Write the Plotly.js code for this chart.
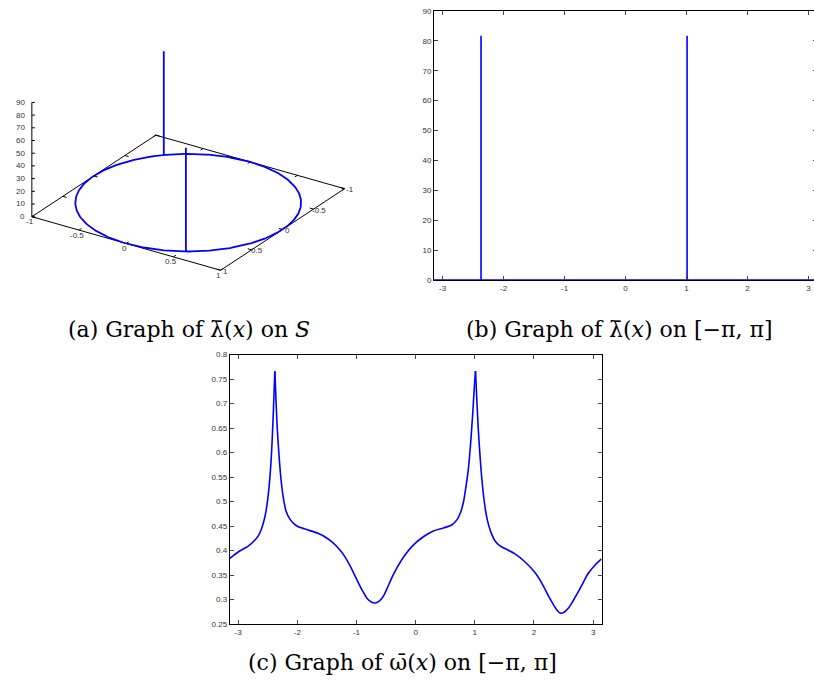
<!DOCTYPE html>
<html>
<head>
<meta charset="utf-8">
<script src="https://cdn.plot.ly/plotly-3.0.1.min.js"></script>
<style>
  html, body { margin: 0; padding: 0; background: #fff; overflow: hidden; width: 814px; height: 689px; }
  #fig { width: 818px; height: 689px; }
</style>
</head>
<body>
<div id="fig"></div>
<script>
const PI = Math.PI;

// lambda-bar: zero on the circle except two narrow spikes
const lambdaBase = 0;
const lambdaSpikeAt = [-2.37, 1.01];
const lambdaSpikeHeight = [81.7, 81.7];

// omega-bar sampled on [-pi, pi]
const omegaX = [-3.1416, -3.00, -2.90, -2.83, -2.72, -2.66, -2.61, -2.57, -2.53, -2.50, -2.47, -2.44, -2.42, -2.40, -2.38,
  -2.36, -2.34, -2.31, -2.28, -2.24, -2.19, -2.12, -2.05, -1.99, -1.82, -1.65, -1.51, -1.40, -1.28, -1.20, -1.11,
  -1.00, -0.90, -0.82, -0.75, -0.68, -0.61, -0.54, -0.47, -0.40, -0.32, -0.18, -0.04, 0.13, 0.30, 0.47, 0.61,
  0.70, 0.76, 0.81, 0.85, 0.89, 0.93, 0.965, 0.99, 1.012, 1.035, 1.06, 1.09, 1.12, 1.16, 1.21, 1.27, 1.34, 1.42,
  1.51, 1.68, 1.845, 2.01, 2.13, 2.25, 2.39, 2.45, 2.51, 2.58, 2.66, 2.75, 2.83, 2.915, 3.03, 3.1416];
const omegaY = [0.384, 0.397, 0.404, 0.409, 0.421, 0.430, 0.443, 0.458, 0.480, 0.505, 0.540, 0.590, 0.640, 0.700, 0.766,
  0.705, 0.650, 0.595, 0.550, 0.510, 0.480, 0.463, 0.454, 0.449, 0.442, 0.435, 0.426, 0.416, 0.401, 0.388, 0.369,
  0.342, 0.318, 0.302, 0.295, 0.293, 0.297, 0.308, 0.326, 0.345, 0.364, 0.391, 0.411, 0.428, 0.440, 0.446, 0.452,
  0.463, 0.478, 0.500, 0.530, 0.565, 0.620, 0.680, 0.730, 0.766, 0.705, 0.645, 0.590, 0.545, 0.500, 0.463, 0.438, 0.420, 0.410,
  0.404, 0.393, 0.377, 0.356, 0.334, 0.306, 0.278, 0.272, 0.274, 0.282, 0.297, 0.316, 0.334, 0.353, 0.370, 0.383];

// tick labels
const angleTickVals = [-3, -2, -1, 0, 1, 2, 3];
const angleTickText = ['-3', '-2', '-1', '0', '1', '2', '3'];
const unitTickVals = [-1, -0.5, 0, 0.5, 1];
const unitTickText = ['-1', '-0.5', '0', '0.5', '1'];
const heightTickVals = [0, 10, 20, 30, 40, 50, 60, 70, 80, 90];

const captions = [
  '(a) Graph of λ\u0304(<i>x</i>) on <i>S</i>',
  '(b) Graph of λ\u0304(<i>x</i>) on [\u2212π, π]',
  '(c) Graph of ω\u0304(<i>x</i>) on [\u2212π, π]'
];

const W = 818, H = 689;
const fx = v => v / W;
const fy = v => 1 - v / H;
const blue = '#0000ff';
const tickFont = { family: 'Liberation Sans, Arial, sans-serif', size: 8, color: '#333' };

// ---------- (b) lambda-bar on [-pi, pi]: baseline with vertical spikes
const lamX = [-PI], lamY = [lambdaBase];
lambdaSpikeAt.forEach((a, i) => {
  lamX.push(a, a, a);
  lamY.push(lambdaBase, lambdaSpikeHeight[i], lambdaBase);
});
lamX.push(PI); lamY.push(lambdaBase);

// ---------- (a) surface plot view: orthographic projection of (x, y, z)
const view = { azimuth: 33.3, elevation: 25.6, zScale: 0.01247 };
const ca = Math.cos(view.azimuth * PI / 180), sa = Math.sin(view.azimuth * PI / 180);
const ce = Math.cos(view.elevation * PI / 180), se = Math.sin(view.elevation * PI / 180);
function proj(x, y, z) {
  const depth = x * sa + y * ca;
  return [x * ca - y * sa, -depth * se + z * view.zScale * ce];
}
function pushPt(arrU, arrV, x, y, z) {
  const p = proj(x, y, z); arrU.push(p[0]); arrV.push(p[1]);
}

// lambda-bar drawn over the unit circle S (angle grid of the domain + spikes)
const thetas = [];
const nGrid = 360;
for (let k = 0; k <= nGrid; k++) thetas.push(-PI + 2 * PI * k / nGrid);
const events = thetas.map(t => ({ t, spike: -1 }))
  .concat(lambdaSpikeAt.map((a, i) => ({ t: a, spike: i })))
  .sort((p, q) => p.t - q.t);
const su = [], sv = [];
events.forEach(e => {
  const c = Math.cos(e.t), s = Math.sin(e.t);
  if (e.spike < 0) pushPt(su, sv, c, s, lambdaBase);
  else {
    pushPt(su, sv, c, s, lambdaBase);
    pushPt(su, sv, c, s, lambdaSpikeHeight[e.spike]);
    pushPt(su, sv, c, s, lambdaBase);
  }
});

// box frame: base square, z axis and tick marks
const xr = [unitTickVals[0], unitTickVals[unitTickVals.length - 1]];
const zr = [heightTickVals[0], heightTickVals[heightTickVals.length - 1]];
const fu = [], fv = [];
function seg(a, b) { pushPt(fu, fv, a[0], a[1], a[2]); pushPt(fu, fv, b[0], b[1], b[2]); fu.push(null); fv.push(null); }
[[xr[0], xr[1]], [xr[1], xr[1]], [xr[1], xr[0]], [xr[0], xr[0]], [xr[0], xr[1]]].forEach((c, i, arr) => {
  if (i > 0) seg([arr[i - 1][0], arr[i - 1][1], zr[0]], [c[0], c[1], zr[0]]);
});
seg([xr[0], xr[1], zr[0]], [xr[0], xr[1], zr[1]]);
const tl = 0.04;
unitTickVals.forEach(t => {
  seg([t, xr[1], 0], [t, xr[1] - tl, 0]);
  seg([t, xr[0], 0], [t, xr[0] + tl, 0]);
  seg([xr[1], t, 0], [xr[1] - tl, t, 0]);
  seg([xr[0], t, 0], [xr[0] + tl, t, 0]);
});
const tlz = 0.027;
heightTickVals.forEach(z => seg([xr[0], xr[1], z], [xr[0] + tlz * ca, xr[1] - tlz * sa, z]));

// pixel placement of the 3D panel
const pScale = 112.9, pCx = 188.2, pCy = 202.7;
const aL = 0, aR = 400, aT = 20, aB = 300;
const a3x = { domain: [fx(aL), fx(aR)], range: [(aL - pCx) / pScale, (aR - pCx) / pScale], anchor: 'y3', visible: false, fixedrange: true };
const a3y = { domain: [fy(aB), fy(aT)], range: [(pCy - aB) / pScale, (pCy - aT) / pScale], anchor: 'x3', visible: false, fixedrange: true };

// tick labels of the 3D panel
const boxLabels = [];
unitTickVals.forEach((t, i) => {
  const p = proj(t, xr[1], 0);
  boxLabels.push({ text: unitTickText[i], x: p[0], y: p[1], xshift: -2, yshift: -5, xanchor: 'center', yanchor: 'middle' });
  const q = proj(xr[1], t, 0);
  boxLabels.push({ text: unitTickText[i], x: q[0], y: q[1], xshift: 5, yshift: -1, xanchor: 'center', yanchor: 'middle' });
});
heightTickVals.forEach(z => {
  const p = proj(xr[0], xr[1], z);
  boxLabels.push({ text: String(z), x: p[0], y: p[1], xshift: -5, yshift: 0, xanchor: 'right', yanchor: 'middle' });
});
boxLabels.forEach(a => Object.assign(a, { xref: 'x3', yref: 'y3', showarrow: false, font: tickFont }));

// ---------- (c) omega-bar: smooth pieces joined at the two cusps
const cuts = [0];
for (let i = 1; i < omegaY.length - 1; i++) {
  if (omegaY[i] > omegaY[i - 1] && omegaY[i] > omegaY[i + 1] && omegaY[i] > 0.6) cuts.push(i);
}
cuts.push(omegaY.length - 1);
const omegaTraces = [];
for (let i = 0; i < cuts.length - 1; i++) {
  omegaTraces.push({
    type: 'scatter', mode: 'lines', xaxis: 'x2', yaxis: 'y2',
    x: omegaX.slice(cuts[i], cuts[i + 1] + 1), y: omegaY.slice(cuts[i], cuts[i + 1] + 1),
    line: { color: blue, width: 1.6, shape: 'spline', smoothing: 0.8 }, hoverinfo: 'skip', showlegend: false
  });
}

const traces = [
  { type: 'scatter', mode: 'lines', x: fu, y: fv, xaxis: 'x3', yaxis: 'y3',
    line: { color: '#000', width: 1 }, connectgaps: false, hoverinfo: 'skip', showlegend: false },
  { type: 'scatter', mode: 'lines', x: su, y: sv, xaxis: 'x3', yaxis: 'y3',
    line: { color: blue, width: 1.8 }, hoverinfo: 'skip', showlegend: false },
  { type: 'scatter', mode: 'lines', x: lamX, y: lamY, xaxis: 'x', yaxis: 'y',
    line: { color: blue, width: 1.6 }, hoverinfo: 'skip', showlegend: false }
].concat(omegaTraces);

const axis2d = {
  showline: true, linecolor: '#000', linewidth: 1, mirror: 'allticks',
  ticks: 'inside', ticklen: 4, tickcolor: '#444', tickwidth: 1,
  showgrid: false, zeroline: false, tickfont: tickFont, fixedrange: true
};

const layout = {
  width: W, height: H,
  margin: { l: 0, r: 0, t: 0, b: 0 },
  paper_bgcolor: '#fff', plot_bgcolor: 'rgba(0,0,0,0)', showlegend: false,
  font: { family: 'Liberation Sans, Arial, sans-serif', size: 8, color: '#333' },
  xaxis: Object.assign({}, axis2d, {
    domain: [fx(434), fx(817)], anchor: 'y', range: [-PI, PI],
    tickvals: angleTickVals, ticktext: angleTickText
  }),
  yaxis: Object.assign({}, axis2d, {
    domain: [fy(280), fy(11)], anchor: 'x', range: [0, 90], dtick: 10, tick0: 0
  }),
  xaxis2: Object.assign({}, axis2d, {
    domain: [fx(229.8), fx(601.5)], anchor: 'y2', range: [-PI, PI],
    tickvals: angleTickVals, ticktext: angleTickText
  }),
  yaxis2: Object.assign({}, axis2d, {
    domain: [fy(624), fy(354.5)], anchor: 'x2', range: [0.25, 0.8], dtick: 0.05, tick0: 0.25
  }),
  xaxis3: a3x,
  yaxis3: a3y,
  annotations: [
    { text: captions[0], x: fx(189), y: fy(329) },
    { text: captions[1], x: fx(619), y: fy(329) },
    { text: captions[2], x: fx(402), y: fy(662) }
  ].map(a => Object.assign(a, {
    xref: 'paper', yref: 'paper', xanchor: 'center', yanchor: 'middle', showarrow: false,
    font: { family: 'DejaVu Serif, Liberation Serif, serif', size: 22, color: '#000' }
  })).concat(boxLabels)
};

Plotly.newPlot('fig', traces, layout, { staticPlot: true, displayModeBar: false });
</script>
</body>
</html>
